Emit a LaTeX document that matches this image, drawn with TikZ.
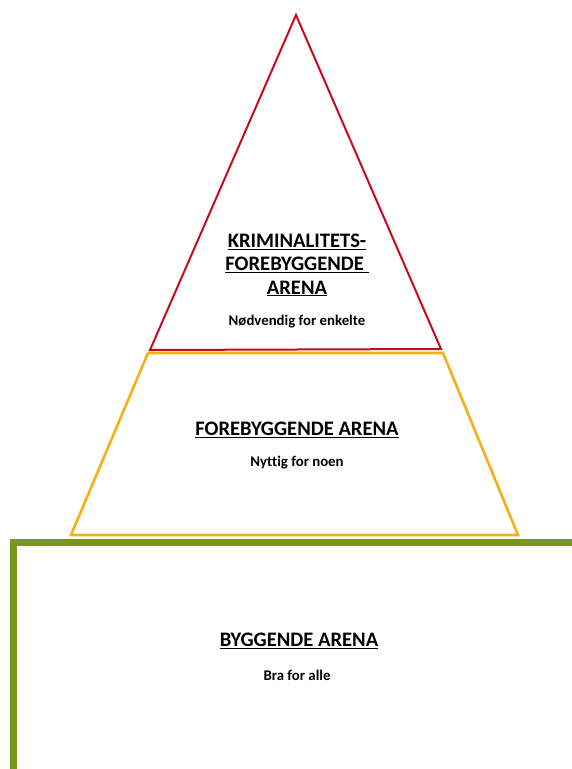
\documentclass[tikz,border=0pt]{standalone}
\usepackage{fontspec}
\setmainfont{Carlito}[Ligatures=NoCommon]
\definecolor{kred}{RGB}{200,10,30}
\definecolor{kyel}{RGB}{245,175,25}
\definecolor{kgrn}{RGB}{122,150,28}
\tikzset{
  title/.style={font=\bfseries\fontsize{20.6}{23.5}\selectfont, align=center, inner sep=0pt},
  sub/.style={font=\bfseries\fontsize{14.8}{17}\selectfont, inner sep=0pt},
}
\begin{document}
\begin{tikzpicture}[x=1pt,y=-1pt]
\useasboundingbox (0,0) rectangle (572,769);
% shapes
\coordinate (tA) at (296,15);
\coordinate (tL) at (150,350);
\coordinate (tR) at (441,349);
\coordinate (yTL) at (148,353);
\coordinate (yTR) at (443,353);
\coordinate (yBR) at (518,535);
\coordinate (yBL) at (71,535);
\draw[kyel, line width=2.6pt, line join=miter] (yTL) -- (yTR) -- (yBR) -- (yBL) -- cycle;
\draw[kred, line width=2pt, line join=miter] (tA) -- (tR) -- (tL) -- cycle;
\coordinate (gB) at (13,772);
\coordinate (gC) at (13,542);
\coordinate (gR) at (575,542);
\draw[kgrn, line width=7pt, line join=miter] (gB) -- (gC) -- (gR);
% texts
\node[title] (t1) at (297,265) {\underline{KRIMINALITETS-}\\\underline{FOREBYGGENDE\ }\\\underline{ARENA}};
\node[sub] (s1) at (297,322) {Nødvendig for enkelte};
\node[title] (t2) at (297,430) {\underline{FOREBYGGENDE ARENA}};
\node[sub] (s2) at (297,463) {Nyttig for noen};
\node[title] (t3) at (299,641) {\underline{BYGGENDE ARENA}};
\node[sub] (s3) at (297,675) {Bra for alle};
\end{tikzpicture}
\end{document}
